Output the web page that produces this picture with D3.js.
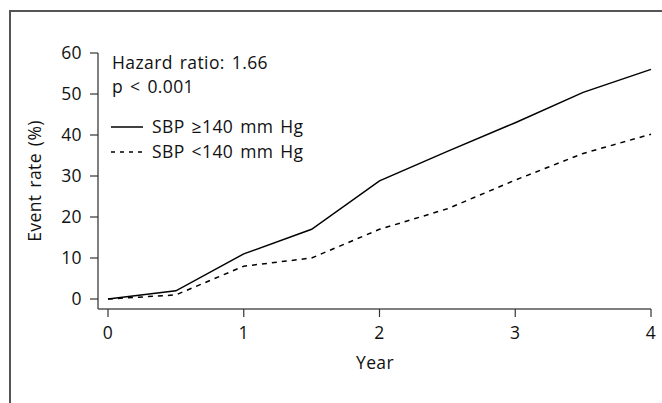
<!DOCTYPE html>
<html>
<head>
<meta charset="utf-8">
<script src="https://cdn.jsdelivr.net/npm/d3@7"></script>
<style>
  body { margin: 0; background: #fff; }
  text { font-family: "Open Sans", "Noto Sans", sans-serif; font-size: 17.5px; letter-spacing: 0.4px; word-spacing: 2px; fill: #111; }
</style>
</head>
<body>
<svg id="thesvg" width="662" height="403"></svg>
<script>
'use strict';

// data
let years = [0, 0.5, 1, 1.5, 2, 2.5, 3, 3.5, 4],
    high = [0, 2, 11, 17, 28.8, 36, 43, 50.4, 56],   // SBP >=140
    low  = [0, 1, 8, 10, 17, 22, 29, 35.5, 40.2],    // SBP <140
    xTicks = [0, 1, 2, 3, 4],
    yTicks = [0, 10, 20, 30, 40, 50, 60];

var svg = d3.select("#thesvg"),
    x = d3.scaleLinear().domain([0, 4]).range([108, 651]),
    y = d3.scaleLinear().domain([0, 60]).range([299, 53]);

// frame (left and top edges only visible)
svg.append("path")
    .attr("d", "M10,403V11H662")
    .attr("fill", "none")
    .attr("stroke", "#555")
    .attr("stroke-width", 2);

var axisX = 309, axisY = 98;

// y axis
var gy = svg.append("g").attr("transform", "translate(" + axisY + ",0)");
gy.append("line")
    .attr("x1", 0).attr("x2", 0)
    .attr("y1", y(60)).attr("y2", axisX)
    .attr("stroke", "#555").attr("stroke-width", 1.5);
gy.selectAll(".tk").data(yTicks).enter().append("line")
    .attr("x1", -8).attr("x2", 0)
    .attr("y1", d => y(d)).attr("y2", d => y(d))
    .attr("stroke", "#333").attr("stroke-width", 1.2);
gy.selectAll(".lb").data(yTicks).enter().append("text")
    .attr("x", -16).attr("y", d => y(d)).attr("dy", "0.36em")
    .attr("text-anchor", "end")
    .text(d => d);

// x axis
var gx = svg.append("g").attr("transform", "translate(0," + axisX + ")");
gx.append("line")
    .attr("x1", axisY).attr("x2", x(4))
    .attr("stroke", "#555").attr("stroke-width", 1.5);
gx.selectAll(".tk").data(xTicks).enter().append("line")
    .attr("x1", d => x(d)).attr("x2", d => x(d))
    .attr("y1", 0).attr("y2", 8)
    .attr("stroke", "#333").attr("stroke-width", 1.2);
gx.selectAll(".lb").data(xTicks).enter().append("text")
    .attr("x", d => x(d)).attr("y", 30)
    .attr("text-anchor", "middle")
    .text(d => d);

svg.append("text")
    .attr("x", 375).attr("y", 369)
    .attr("text-anchor", "middle")
    .text("Year");

svg.append("text")
    .attr("transform", "translate(41,181) rotate(-90)")
    .attr("text-anchor", "middle")
    .text("Event rate (%)");

// series
var line = d3.line().x((d, i) => x(years[i])).y(d => y(d));

svg.append("path")
    .datum(high)
    .attr("d", line)
    .attr("fill", "none")
    .attr("stroke", "#000")
    .attr("stroke-width", 1.5);

svg.append("path")
    .datum(low)
    .attr("d", line)
    .attr("fill", "none")
    .attr("stroke", "#000")
    .attr("stroke-width", 1.5)
    .attr("stroke-dasharray", "5,5");

// annotation + legend
svg.append("text").attr("x", 112).attr("y", 69).text("Hazard ratio: 1.66");
svg.append("text").attr("x", 112).attr("y", 93).text("p < 0.001");

var legend = [
  {label: "SBP \u2265140 mm Hg", dash: null, y: 127},
  {label: "SBP <140 mm Hg", dash: "4,5", y: 152}
];
var lg = svg.selectAll(".legend").data(legend).enter().append("g");
lg.append("line")
    .attr("x1", 111).attr("x2", 143)
    .attr("y1", d => d.y).attr("y2", d => d.y)
    .attr("stroke", "#000").attr("stroke-width", 1.5)
    .attr("stroke-dasharray", d => d.dash);
lg.append("text")
    .attr("x", 152).attr("y", d => d.y).attr("dy", "0.36em")
    .text(d => d.label);
</script>
</body>
</html>
